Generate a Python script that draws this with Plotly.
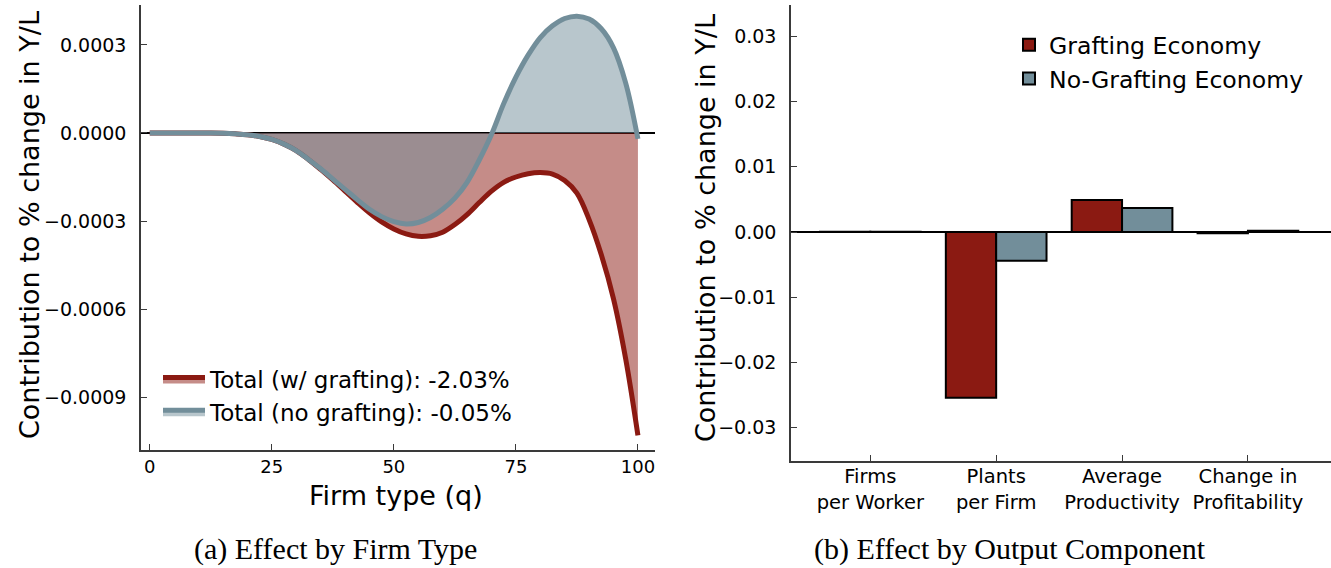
import plotly.graph_objects as go

# ---------------- data ----------------
q = [0, 2.5, 5, 7.5, 10, 12.5, 15, 17.5, 20, 22.5, 25, 27.5, 30, 32.5, 35, 37.5, 40, 42.5,
     45, 47.5, 50, 52.5, 55, 57.5, 60, 62.5, 65, 67.5, 70, 72.5, 75, 77.5, 80, 82.5, 85,
     87.5, 90, 92.5, 95, 97.5, 100]

grafting_q = [0, 0, 0, 0, 0, 0, -0.000001, -0.000003, -0.000006, -0.000012, -0.000022,
              -0.000038, -0.00006, -0.00009, -0.000124, -0.00016, -0.000198, -0.000236,
              -0.000272, -0.000303, -0.000327, -0.000344, -0.000352, -0.00035, -0.000338,
              -0.000312, -0.000278, -0.000237, -0.000198, -0.000168, -0.00015, -0.000139,
              -0.000135, -0.00014, -0.000162, -0.000205, -0.000295, -0.000415, -0.000565,
              -0.00077, -0.00103]

nograft_q = [0, 0, 0, 0, 0, 0, -0.000001, -0.000003, -0.000006, -0.000012, -0.000022,
             -0.000038, -0.00006, -0.00009, -0.000122, -0.000157, -0.000192, -0.000227,
             -0.00026, -0.000285, -0.000302, -0.00031, -0.000305, -0.000288, -0.00026,
             -0.000222, -0.000168, -0.000092, -0.000005, 0.0001, 0.00019, 0.000265,
             0.000325, 0.000365, 0.00039, 0.000398, 0.000388, 0.000355, 0.00029, 0.00017,
             -0.00002]

left_names = ["Total (w/ grafting): -2.03%", "Total (no grafting): -0.05%"]
left_xticks = [0, 25, 50, 75, 100]
left_yticks = [0.0003, 0.0, -0.0003, -0.0006, -0.0009]
left_yticktext = ["0.0003", "0.0000", "\u22120.0003", "\u22120.0006", "\u22120.0009"]

components = ["Firms<br>per Worker", "Plants<br>per Firm", "Average<br>Productivity",
              "Change in<br>Profitability"]
grafting_comp = [0.00003, -0.0254, 0.0049, -0.0002]
nograft_comp = [0.00003, -0.0044, 0.0037, 0.0002]
bar_names = ["Grafting Economy", "No-Grafting Economy"]
right_yticks = [0.03, 0.02, 0.01, 0.0, -0.01, -0.02, -0.03]
right_yticktext = ["0.03", "0.02", "0.01", "0.00", "\u22120.01", "\u22120.02", "\u22120.03"]

ytitle = "Contribution to % change in Y/L"
xtitle = "Firm type (q)"
captions = ["(a) Effect by Firm Type", "(b) Effect by Output Component"]

# ---------------- style ----------------
W, H = 1331, 568
RED = "#8b1a12"
BLUE = "#728e9a"
RED_FILL = "rgba(139,26,18,0.5)"
BLUE_FILL = "rgba(114,142,154,0.5)"
AXC = "#3a3a3a"
FONT = "DejaVu Sans"
SERIF = "Liberation Serif"


def px(x):
    return x / W


def py(y):
    return 1 - y / H


fig = go.Figure()

fig.add_trace(go.Scatter(x=q, y=grafting_q, mode="lines", name=left_names[0],
                         line=dict(color=RED, width=5, shape="spline", smoothing=1),
                         fill="tozeroy", fillcolor=RED_FILL,
                         xaxis="x", yaxis="y", legend="legend"))
fig.add_trace(go.Scatter(x=q, y=nograft_q, mode="lines", name=left_names[1],
                         line=dict(color=BLUE, width=5, shape="spline", smoothing=1),
                         fill="tozeroy", fillcolor=BLUE_FILL,
                         xaxis="x", yaxis="y", legend="legend"))

fig.add_trace(go.Bar(x=components, y=grafting_comp, name=bar_names[0],
                     marker=dict(color=RED, line=dict(color="black", width=2)),
                     xaxis="x2", yaxis="y2", legend="legend2"))
fig.add_trace(go.Bar(x=components, y=nograft_comp, name=bar_names[1],
                     marker=dict(color=BLUE, line=dict(color="black", width=2)),
                     xaxis="x2", yaxis="y2", legend="legend2"))

axis_common = dict(showgrid=False, showline=True, linecolor=AXC, linewidth=1.5,
                   ticks="inside", ticklen=6, tickwidth=1.2, tickcolor=AXC)

fig.update_layout(
    width=W, height=H,
    margin=dict(l=0, r=0, t=0, b=0),
    paper_bgcolor="white", plot_bgcolor="white",
    font=dict(family=FONT, color="black"),
    barmode="group", bargap=0.2, bargroupgap=0,
    xaxis=dict(domain=[px(141), px(655)], range=[-1.8, 103.5], anchor="y",
               tickvals=left_xticks, zeroline=False,
               tickfont=dict(family=FONT, size=18, color="black"), **axis_common),
    yaxis=dict(domain=[py(450), py(5)], range=[-0.00108, 0.000436], anchor="x",
               tickvals=left_yticks, ticktext=left_yticktext, ticklabelstandoff=9,
               zeroline=True, zerolinecolor="black", zerolinewidth=2,
               tickfont=dict(family=FONT, size=19, color="black"), **axis_common),
    xaxis2=dict(domain=[px(791), 1.0], range=[-0.63, 3.66], anchor="y2",
                zeroline=False, ticklabelstandoff=-3,
                tickfont=dict(family=FONT, size=19.5, color="black"), **axis_common),
    yaxis2=dict(domain=[py(461), py(5)], range=[-0.0351, 0.0348], anchor="x2",
                tickvals=right_yticks, ticktext=right_yticktext, ticklabelstandoff=9,
                zeroline=True, zerolinecolor="black", zerolinewidth=2,
                tickfont=dict(family=FONT, size=19, color="black"), **axis_common),
    legend=dict(x=px(158), y=py(358), xanchor="left", yanchor="top",
                bgcolor="rgba(0,0,0,0)", font=dict(family=FONT, size=23),
                itemwidth=42, tracegroupgap=0),
    legend2=dict(x=px(1009), y=py(23), xanchor="left", yanchor="top",
                 bgcolor="rgba(0,0,0,0)", font=dict(family=FONT, size=23.6),
                 tracegroupgap=0),
)

annotations = [
    dict(text=ytitle, x=px(30), y=py(225), textangle=-90,
         font=dict(family=FONT, size=27)),
    dict(text=ytitle, x=px(705), y=py(228), textangle=-90,
         font=dict(family=FONT, size=27)),
    dict(text=xtitle, x=px(396), y=py(495), font=dict(family=FONT, size=27)),
    dict(text=captions[0], x=px(335), y=py(549), font=dict(family=SERIF, size=30)),
    dict(text=captions[1], x=px(1010), y=py(549), font=dict(family=SERIF, size=30)),
]
for a in annotations:
    a.update(xref="paper", yref="paper", showarrow=False,
             xanchor="center", yanchor="middle")
fig.update_layout(annotations=annotations)

fig.write_html("out.html")
